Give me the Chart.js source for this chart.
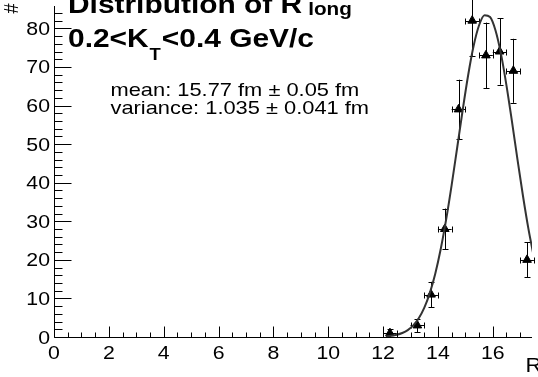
<!DOCTYPE html>
<html lang="en">
  <head>
    <meta charset="UTF-8" />
    <title>Distribution of R long</title>
    <style>
      * {
        margin: 0;
        padding: 0;
        box-sizing: border-box;
      }
      body {
        width: 538px;
        height: 377px;
        overflow: hidden;
        background-color: #ffffff;
      }
    </style>
  </head>
  <body>
    <canvas id="chart" width="538" height="377"></canvas>

    <script src="https://cdn.jsdelivr.net/npm/chart.js"></script>
    <script>
      // histogram bins (centre, content, error)
      const binR = [12.25, 13.25, 13.75, 14.25, 14.75, 15.25, 15.75, 16.25, 16.75, 17.25];
      const binHalfWidth = [0.25, 0.25, 0.25, 0.25, 0.25, 0.25, 0.25, 0.25, 0.25, 0.25];
      const counts = [1, 3, 11, 28, 59, 82, 73, 74, 69, 20];
      const countErr = [1.0, 1.7, 3.3, 5.3, 7.7, 9.1, 8.5, 8.6, 8.3, 4.5];

      // fit curve
      const fitR = [12.1, 12.3, 12.5, 12.7, 12.9, 13.1, 13.3, 13.5, 13.7, 13.9, 14.1, 14.3, 14.5, 14.7,
                    14.9, 15.1, 15.3, 15.5, 15.7, 15.9, 16.1, 16.3, 16.5, 16.7, 16.9, 17.1, 17.3, 17.5];
      const fitY = [0.16, 0.3, 0.57, 1.03, 1.79, 3.0, 4.85, 7.54, 11.31, 16.33, 22.74, 30.48, 39.38, 48.99,
                    58.71, 67.79, 75.41, 80.8, 83.41, 82.94, 79.45, 73.33, 65.18, 55.83, 46.06, 36.61, 28.02, 20.67];

      // axis ticks
      const xTickLabels = ["0", "2", "4", "6", "8", "10", "12", "14", "16"];
      const yTickLabels = ["0", "10", "20", "30", "40", "50", "60", "70", "80"];
      const xMinorStep = 0.5;
      const yMinorStep = 2;

      const titleMain = "Distribution of R";
      const titleSub = "long";
      const ktLeft = "0.2<K";
      const ktSub = "T";
      const ktRight = "<0.4 GeV/c";
      const meanText = "mean: 15.77 fm \u00b1 0.05 fm";
      const varText = "variance: 1.035 \u00b1 0.041 fm";
      const xTitle = "R";
      const yTitle = "#";

      const SX = 1.15; // text in the picture is a bit wide
      const FONT = '"Liberation Sans", Arial, Helvetica, sans-serif';

      function wideText(c, str, x, y, size, weight, align) {
        c.save();
        c.font = weight + " " + size + "px " + FONT;
        c.textBaseline = "alphabetic";
        c.textAlign = "left";
        const w = c.measureText(str).width * SX;
        let left = x;
        if (align === "right") left = x - w;
        if (align === "center") left = x - w / 2;
        c.translate(left, y);
        c.scale(SX, 1);
        c.fillStyle = "#000";
        c.fillText(str, 0, 0);
        c.restore();
        return left + w;
      }

      const rootLook = {
        id: "rootLook",
        beforeDatasetsDraw(chart) {
          const c = chart.ctx;
          const xs = chart.scales.x;
          const ys = chart.scales.y;
          c.save();
          c.strokeStyle = "#000";
          c.lineWidth = 1;
          c.beginPath();
          for (let i = 0; i < binR.length; i++) {
            const px = Math.round(xs.getPixelForValue(binR[i])) + 0.5;
            const py = Math.round(ys.getPixelForValue(counts[i])) + 0.5;
            const x1 = xs.getPixelForValue(binR[i] - binHalfWidth[i]);
            const x2 = xs.getPixelForValue(binR[i] + binHalfWidth[i]);
            const y1 = ys.getPixelForValue(counts[i] - countErr[i]);
            const y2 = ys.getPixelForValue(counts[i] + countErr[i]);
            c.moveTo(x1, py); c.lineTo(x2, py);
            c.moveTo(px, y1); c.lineTo(px, y2);
            // end caps
            c.moveTo(Math.round(x1) + 0.5, py - 3); c.lineTo(Math.round(x1) + 0.5, py + 3);
            c.moveTo(Math.round(x2) + 0.5, py - 3); c.lineTo(Math.round(x2) + 0.5, py + 3);
            c.moveTo(px - 3, Math.round(y1) + 0.5); c.lineTo(px + 3, Math.round(y1) + 0.5);
            c.moveTo(px - 3, Math.round(y2) + 0.5); c.lineTo(px + 3, Math.round(y2) + 0.5);
          }
          c.stroke();
          c.restore();
        },
        afterDraw(chart) {
          const c = chart.ctx;
          const xs = chart.scales.x;
          const ys = chart.scales.y;
          const area = chart.chartArea;
          const x0 = Math.round(xs.getPixelForValue(0)) + 0.5;
          const y0 = Math.round(ys.getPixelForValue(0)) + 0.5;

          c.save();
          c.strokeStyle = "#000";
          c.lineWidth = 1;
          c.beginPath();
          // axis lines
          c.moveTo(x0, area.top); c.lineTo(x0, y0);
          c.lineTo(area.right, y0);
          // x ticks
          for (let v = 0; v <= xs.max + 1e-9; v += xMinorStep) {
            const p = Math.round(xs.getPixelForValue(v)) + 0.5;
            const major = Math.abs(v / 2 - Math.round(v / 2)) < 1e-6;
            c.moveTo(p, y0); c.lineTo(p, y0 - (major ? 11 : 5));
          }
          // y ticks
          for (let v = 0; v <= ys.max + 1e-9; v += yMinorStep) {
            const p = Math.round(ys.getPixelForValue(v)) + 0.5;
            const major = v % 10 === 0;
            c.moveTo(x0, p); c.lineTo(x0 + (major ? 17 : 8), p);
          }
          c.stroke();
          c.restore();

          // tick labels
          xs.ticks.forEach((t, i) => {
            wideText(c, xTickLabels[i], xs.getPixelForValue(t.value), 359, 18.5, "normal", "center");
          });
          ys.ticks.forEach((t, i) => {
            wideText(c, yTickLabels[i], 50, ys.getPixelForValue(t.value) + 6.5, 18.5, "normal", "right");
          });

          // axis titles
          wideText(c, xTitle, 525.5, 372, 19.5, "normal", "left");
          c.save();
          c.translate(12.5, 8.5);
          c.scale(SX, 1);
          c.rotate(-Math.PI / 2);
          c.font = "normal 18px " + FONT;
          c.textAlign = "center";
          c.textBaseline = "middle";
          c.fillStyle = "#000";
          c.fillText(yTitle, 0, 0);
          c.restore();

          // title and labels
          let e = wideText(c, titleMain, 68, 13, 26, "bold", "left");
          wideText(c, titleSub, e + 6, 15, 18, "bold", "left");
          e = wideText(c, ktLeft, 68, 47, 26, "bold", "left");
          e = wideText(c, ktSub, e + 1, 60, 16, "bold", "left");
          wideText(c, ktRight, e + 1, 47, 26, "bold", "left");
          wideText(c, meanText, 110.5, 95.7, 19, "normal", "left");
          wideText(c, varText, 110.5, 114.3, 19, "normal", "left");
        },
      };

      const chart = new Chart(document.getElementById("chart").getContext("2d"), {
        data: {
          datasets: [
            {
              type: "line",
              label: "fit",
              data: fitR.map((r, i) => ({ x: r, y: fitY[i] })),
              borderColor: "#333333",
              borderWidth: 2,
              pointRadius: 0,
              fill: false,
              cubicInterpolationMode: "monotone",
              order: 0,
            },
            {
              type: "scatter",
              label: "R long",
              data: binR.map((r, i) => ({ x: r, y: counts[i] })),
              pointStyle: "triangle",
              pointRadius: 5,
              backgroundColor: "#000000",
              borderColor: "#000000",
              borderWidth: 1,
              order: 1,
            },
          ],
        },
        options: {
          responsive: false,
          animation: false,
          devicePixelRatio: 1,
          layout: { padding: 0 },
          plugins: {
            legend: { display: false },
            tooltip: { enabled: false },
          },
          scales: {
            x: {
              type: "linear",
              min: 0,
              max: 17.43,
              grid: { display: false },
              border: { display: false },
              ticks: { display: false },
              afterBuildTicks(s) {
                s.ticks = xTickLabels.map((l) => ({ value: Number(l) }));
              },
              afterFit(s) {
                s.height = 40;
              },
            },
            y: {
              type: "linear",
              min: 0,
              max: 85.8,
              grid: { display: false },
              border: { display: false },
              ticks: { display: false },
              afterBuildTicks(s) {
                s.ticks = yTickLabels.map((l) => ({ value: Number(l) }));
              },
              afterFit(s) {
                s.width = 54;
              },
            },
          },
        },
        plugins: [rootLook],
      });
    </script>
  </body>
</html>
